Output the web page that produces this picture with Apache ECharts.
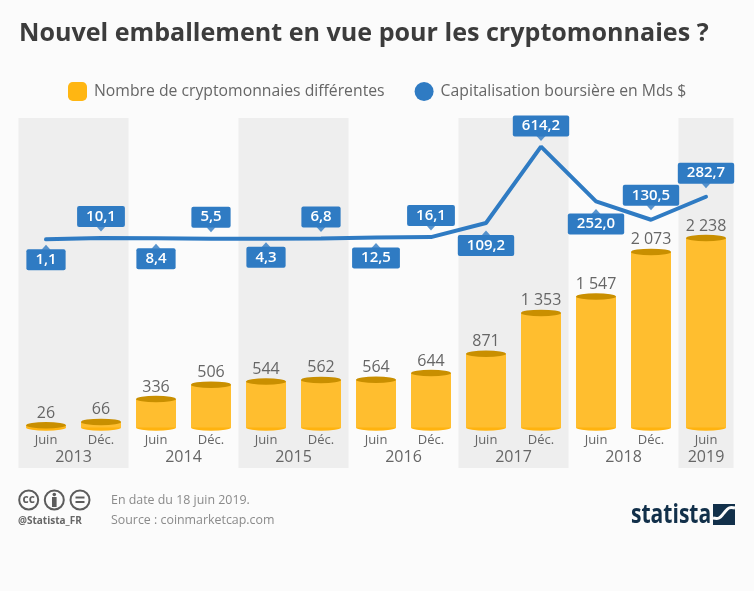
<!DOCTYPE html>
<html>
<head>
<meta charset="utf-8">
<title>Nouvel emballement en vue pour les cryptomonnaies ?</title>
<script src="https://cdn.jsdelivr.net/npm/echarts@6/dist/echarts.min.js"></script>
<style>
	html, body { margin: 0; padding: 0; background: #fbfbfb; }
	#chart { width: 754px; height: 591px; }
</style>
</head>
<body>
<div id="chart"></div>
<script>
// donnees
const periods = ['Juin', 'Déc.', 'Juin', 'Déc.', 'Juin', 'Déc.', 'Juin', 'Déc.', 'Juin', 'Déc.', 'Juin', 'Déc.', 'Juin'];
const coinCount = [26, 66, 336, 506, 544, 562, 564, 644, 871, 1353, 1547, 2073, 2238];
const marketCap = [1.1, 10.1, 8.4, 5.5, 4.3, 6.8, 12.5, 16.1, 109.2, 614.2, 252.0, 130.5, 282.7];
const years = ['2013', '2014', '2015', '2016', '2017', '2018', '2019'];
const yearFirstPeriod = [0, 2, 4, 6, 8, 10, 12];
const yearLastPeriod = [1, 3, 5, 7, 9, 11, 12];

const COINS_NAME = 'Nombre de cryptomonnaies différentes';
const CAP_NAME = 'Capitalisation boursière en Mds $';
const FONT = '"Open Sans", sans-serif';
const BLUE = '#2f7bc3';
const GREY_TEXT = '#666666';

// ecart point / boite bleue, negatif = boite au dessus du point
const labelGaps = [10, -11, 10, -11, 8, -11, 10, -11, 12, -10, 12, -14, -13];
const BOX_HEIGHT = 21;

const bandData = years.map((y, i) => [yearFirstPeriod[i], yearLastPeriod[i], y, i % 2 === 0 ? 1 : 0]);

const renderYearBand = (params, api) => {
	let start = api.coord([api.value(0), 0])[0];
	let end = api.coord([api.value(1), 0])[0];
	let half = api.size([1, 0])[0] / 2;
	let box = params.coordSys;
	let children = [];

	if (api.value(3) === 1) {
		children.push({
			type: 'rect',
			shape: { x: start - half, y: box.y, width: end - start + half * 2, height: box.height },
			style: { fill: '#eeeeee' }
		});
	}
	children.push({
		type: 'text',
		style: {
			x: (start + end) / 2,
			y: box.y + box.height - 11,
			text: String(api.value(2)),
			fill: GREY_TEXT,
			font: '16px ' + FONT,
			align: 'center',
			verticalAlign: 'middle'
		}
	});
	return { type: 'group', children: children };
};

const capLabel = (v) => v.toFixed(1).replace('.', ',');
const countLabel = (v) => String(v).replace(/\B(?=(\d{3})+$)/g, ' ');

const option = {
	backgroundColor: '#fbfbfb',
	animation: false,
	title: {
		text: 'Nouvel emballement en vue pour les cryptomonnaies ?',
		left: 14,
		top: 16,
		textStyle: { color: '#3c3c3c', fontSize: 25.1, fontWeight: 700, fontFamily: FONT }
	},
	legend: {
		left: 63,
		top: 77,
		itemWidth: 19,
		itemHeight: 19,
		itemGap: 30,
		selectedMode: false,
		textStyle: { color: GREY_TEXT, fontSize: 15.75, fontFamily: FONT, padding: [0, 0, 0, 2] },
		data: [
			{ name: COINS_NAME, icon: 'roundRect', itemStyle: { color: '#ffb612' } },
			{ name: CAP_NAME, icon: 'circle', itemStyle: { color: BLUE } }
		]
	},
	grid: { left: 18.5, right: 20.5, top: 118, bottom: 123 },
	xAxis: {
		type: 'category',
		data: periods,
		axisLine: { show: false },
		axisTick: { show: false },
		axisLabel: { interval: 0, inside: true, color: GREY_TEXT, fontSize: 13, fontFamily: FONT, margin: 21 },
		z: 5
	},
	yAxis: [
		{ type: 'value', min: -478, max: 3654, show: false, splitLine: { show: false } },
		{ type: 'value', min: -1510, max: 803, show: false, splitLine: { show: false } }
	],
	series: [
		{
			type: 'custom',
			name: 'bands',
			silent: true,
			renderItem: renderYearBand,
			encode: { x: [0, 1], y: -1 },
			data: bandData,
			z: 0
		},
		{
			type: 'pictorialBar',
			name: 'base',
			silent: true,
			symbol: 'circle',
			symbolSize: [40, 6.5],
			symbolPosition: 'start',
			symbolOffset: [0, 3.25],
			itemStyle: { color: '#ffb30f' },
			data: coinCount,
			z: 2
		},
		{
			type: 'bar',
			name: COINS_NAME,
			silent: true,
			barWidth: 40,
			itemStyle: { color: '#ffbe2f' },
			label: {
				show: true,
				position: 'top',
				distance: 4,
				color: GREY_TEXT,
				fontSize: 16,
				fontFamily: FONT,
				formatter: (p) => countLabel(p.value)
			},
			data: coinCount,
			z: 3
		},
		{
			type: 'pictorialBar',
			name: 'top',
			silent: true,
			symbol: 'circle',
			symbolSize: [40, 6.5],
			symbolPosition: 'end',
			symbolOffset: [0, -3.25],
			itemStyle: { color: '#c98f00' },
			data: coinCount,
			z: 4
		},
		{
			type: 'line',
			name: CAP_NAME,
			silent: true,
			yAxisIndex: 1,
			symbol: 'circle',
			symbolSize: 1,
			showAllSymbol: true,
			lineStyle: { color: BLUE, width: 4, cap: 'round' },
			itemStyle: { color: BLUE },
			data: marketCap.map((v, i) => ({
				value: v,
				label: {
					show: true,
					position: 'inside',
					offset: [0, labelGaps[i] + Math.sign(labelGaps[i]) * BOX_HEIGHT / 2],
					color: '#ffffff',
					fontSize: 15,
					fontWeight: 600,
					fontFamily: FONT,
					lineHeight: 17,
					backgroundColor: BLUE,
					borderRadius: 2,
					padding: [2, 9, 2, 9],
					formatter: capLabel(v)
				}
			})),
			z: 6
		},
		{
			// petites pointes des boites bleues
			type: 'scatter',
			name: 'pointers',
			silent: true,
			yAxisIndex: 1,
			symbol: 'triangle',
			symbolSize: [9, 5],
			itemStyle: { color: BLUE },
			data: marketCap.map((v, i) => ({
				value: [i, v],
				symbolRotate: labelGaps[i] < 0 ? 180 : 0,
				symbolOffset: [0, labelGaps[i] - Math.sign(labelGaps[i]) * 2]
			})),
			z: 5
		}
	],
	graphic: [
		{ type: 'circle', shape: { cx: 28.7, cy: 500, r: 9.5 }, style: { fill: 'none', stroke: '#5c5c5c', lineWidth: 2 } },
		{ type: 'text', style: { x: 28.7, y: 500, text: 'cc', fill: '#5c5c5c', font: '700 12px ' + FONT, align: 'center', verticalAlign: 'middle' } },
		{ type: 'circle', shape: { cx: 54.3, cy: 500, r: 9.5 }, style: { fill: 'none', stroke: '#5c5c5c', lineWidth: 2 } },
		{ type: 'circle', shape: { cx: 54.3, cy: 494.5, r: 1.8 }, style: { fill: '#5c5c5c' } },
		{ type: 'rect', shape: { x: 52, y: 497, width: 4.6, height: 10 }, style: { fill: '#5c5c5c' } },
		{ type: 'circle', shape: { cx: 80, cy: 500, r: 9.5 }, style: { fill: 'none', stroke: '#5c5c5c', lineWidth: 2 } },
		{ type: 'rect', shape: { x: 75.5, y: 496.5, width: 9, height: 2 }, style: { fill: '#5c5c5c' } },
		{ type: 'rect', shape: { x: 75.5, y: 501, width: 9, height: 2 }, style: { fill: '#5c5c5c' } },
		{ type: 'text', style: { x: 18, y: 521, text: '@Statista_FR', fill: '#666666', font: '700 10px ' + FONT, verticalAlign: 'middle' } },
		{ type: 'text', style: { x: 111, y: 500, text: 'En date du 18 juin 2019.', fill: '#8a8a8a', font: '12.4px ' + FONT, verticalAlign: 'middle' } },
		{ type: 'text', style: { x: 111, y: 520, text: 'Source : coinmarketcap.com', fill: '#8a8a8a', font: '12.4px ' + FONT, verticalAlign: 'middle' } },
		{ type: 'text', x: 631, y: 515, scaleX: 0.78, style: { x: 0, y: 0, text: 'statista', fill: '#12304a', font: '700 27px ' + FONT, verticalAlign: 'middle' } },
		{ type: 'rect', shape: { x: 713, y: 504, width: 22, height: 21 }, style: { fill: '#12304a' } },
		{ type: 'polyline', shape: { points: [[713, 518], [719, 518], [724, 513], [729, 508], [735, 508]], smooth: 0.4 }, style: { fill: 'none', stroke: '#fbfbfb', lineWidth: 3 } }
	]
};

const chart = echarts.init(document.getElementById('chart'));
chart.setOption(option);
</script>
</body>
</html>
